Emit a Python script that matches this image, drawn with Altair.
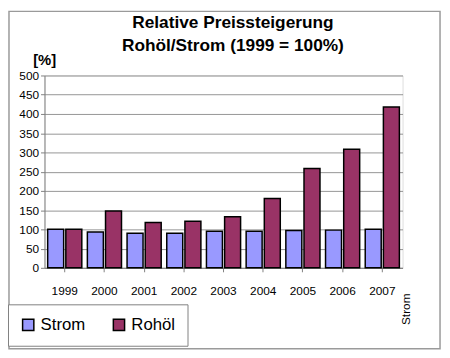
import altair as alt
import pandas as pd

years = ["1999", "2000", "2001", "2002", "2003", "2004", "2005", "2006", "2007"]
strom = [100, 93, 90, 90, 95, 95, 97, 98, 100]
rohoel = [100, 148, 118, 121, 133, 180, 258, 308, 418]
series = ["Strom", "Rohöl"]
colors = ["#9999FF", "#993366"]
y_ticks = [0, 50, 100, 150, 200, 250, 300, 350, 400, 450, 500]
title_lines = ["Relative Preissteigerung", "Rohöl/Strom (1999 = 100%)"]

rows = []
for i, yr in enumerate(years):
    rows.append({"Jahr": yr, "Reihe": "Strom", "Wert": strom[i]})
    rows.append({"Jahr": yr, "Reihe": "Rohöl", "Wert": rohoel[i]})
df = pd.DataFrame(rows)

W, H = 363, 195

bars = alt.Chart(df).mark_bar(stroke="black", strokeWidth=1.5).encode(
    x=alt.X("Jahr:N", sort=years,
            scale=alt.Scale(paddingInner=0.14, paddingOuter=0.08),
            axis=alt.Axis(title=None, labelAngle=0, labelFontSize=12,
                          labelFont="Liberation Sans", labelColor="black",
                          labelPadding=14, tickSize=4, tickColor="#808080",
                          domainColor="#808080")),
    xOffset=alt.XOffset("Reihe:N", sort=series,
                        scale=alt.Scale(paddingInner=0.12)),
    y=alt.Y("Wert:Q", scale=alt.Scale(domain=[0, 500]),
            axis=alt.Axis(values=y_ticks, title="[%]", titleAngle=0,
                          titleX=-12, titleY=-11, titleAlign="left",
                          titleBaseline="alphabetic", titleFontSize=15,
                          titleFont="Liberation Sans", titleFontWeight="bold",
                          labelFontSize=12, labelFont="Liberation Sans",
                          labelColor="black", tickSize=4, tickColor="#808080",
                          domainColor="#808080", gridColor="#7a7a7a",
                          gridWidth=0.8)),
    color=alt.Color("Reihe:N", sort=series,
                    scale=alt.Scale(domain=series, range=colors),
                    legend=alt.Legend(title=None, orient="none", legendX=-37,
                                      legendY=232, direction="horizontal",
                                      columns=2, symbolType="square",
                                      symbolSize=130, symbolStrokeColor="black",
                                      symbolStrokeWidth=1.5, symbolOpacity=1,
                                      labelFontSize=17, labelFont="Liberation Sans",
                                      labelColor="black", columnPadding=24,
                                      padding=12, strokeColor="#808080",
                                      fillColor="white")),
)

depth_label = alt.Chart(pd.DataFrame({"t": ["Strom"]})).mark_text(
    angle=270, fontSize=12, font="Liberation Sans", align="center",
    baseline="middle", color="black"
).encode(x=alt.value(W + 4), y=alt.value(H + 42), text="t:N")

title1 = alt.Chart(pd.DataFrame({"t": [title_lines[0]]})).mark_text(
    fontSize=17.5, font="Liberation Sans", fontWeight="bold", align="center",
    baseline="alphabetic", color="black"
).encode(x=alt.value(191), y=alt.value(-48), text="t:N")

title2 = alt.Chart(pd.DataFrame({"t": [title_lines[1]]})).mark_text(
    fontSize=17.5, font="Liberation Sans", fontWeight="bold", align="center",
    baseline="alphabetic", color="black"
).encode(x=alt.value(191), y=alt.value(-25), text="t:N")

border = alt.Chart(pd.DataFrame({"t": [0]})).mark_rect(
    fill=None, stroke="#9a9a9a", strokeWidth=1.5
).encode(x=alt.value(-36), x2=alt.value(W + 38), y=alt.value(-65),
         y2=alt.value(H + 82))

chart = alt.layer(border, bars, depth_label, title1, title2).properties(
    width=W, height=H,
    autosize=alt.AutoSizeParams(type="none"),
    padding={"left": 37, "top": 66, "right": 40, "bottom": 89},
).configure_view(fill="#d6d6d6", stroke="#808080").configure(background="white")

chart.save("out.html", embed_options={"renderer": "svg", "actions": False})
